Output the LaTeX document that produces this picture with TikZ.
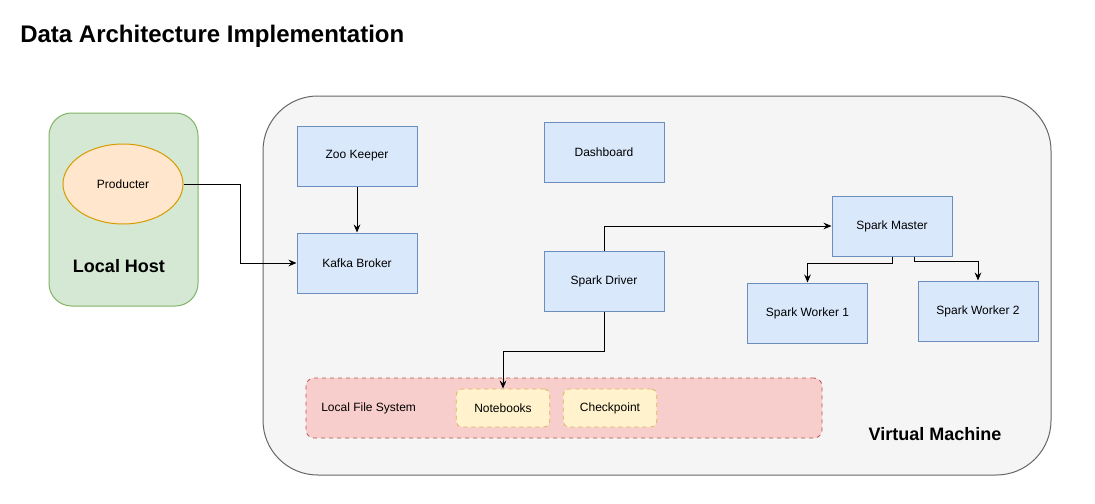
\documentclass[tikz,border=0pt]{standalone}
\usepackage{fontspec}
\setmainfont{Liberation Sans}
\usetikzlibrary{arrows.meta,shapes.geometric,calc}
\definecolor{bluefill}{HTML}{DAE8FC}
\definecolor{bluedraw}{HTML}{6C8EBF}
\definecolor{greenfill}{HTML}{D5E8D4}
\definecolor{greendraw}{HTML}{82B366}
\definecolor{orangefill}{HTML}{FFE6CC}
\definecolor{orangedraw}{HTML}{D79B00}
\definecolor{greyfill}{HTML}{F5F5F5}
\definecolor{greydraw}{HTML}{666666}
\definecolor{redfill}{HTML}{F8CECC}
\definecolor{reddraw}{HTML}{B85450}
\definecolor{yellowfill}{HTML}{FFF2CC}
\definecolor{yellowdraw}{HTML}{D6B656}
\tikzset{
  svc/.style={draw=bluedraw, fill=bluefill, line width=0.75pt, minimum width=90pt, minimum height=45pt, inner sep=0pt, font=\fontsize{9pt}{11pt}\selectfont},
  store/.style={draw=yellowdraw, fill=yellowfill, dashed, line width=0.6pt, rounded corners=4pt, minimum width=70pt, minimum height=28.5pt, inner sep=0pt, font=\fontsize{9pt}{11pt}\selectfont},
  arr/.style={-{Stealth[length=6pt,width=5pt,inset=2pt]}, line width=0.75pt, black},
  bigtitle/.style={font=\bfseries\fontsize{13.5pt}{16pt}\selectfont, inner sep=0pt},
  plain/.style={font=\fontsize{9pt}{11pt}\selectfont, inner sep=0pt}
}
\begin{document}
\begin{tikzpicture}[x=0.75pt,y=-0.75pt]
\useasboundingbox[fill=white] (0,0) rectangle (1095,503);
% title
\node[anchor=west, inner sep=0pt, font=\bfseries\fontsize{18pt}{21pt}\selectfont] (title) at (20,36) {Data Architecture Implementation};
% containers
\node[draw=greendraw, fill=greenfill, line width=0.75pt, rounded corners=17pt, minimum width=111.75pt, minimum height=144.75pt, inner sep=0pt] (lh) at (123.5,209.5) {};
\node[draw=greydraw, fill=greyfill, line width=0.75pt, rounded corners=41pt, minimum width=591pt, minimum height=284.25pt, inner sep=0pt] (vm) at (657,285.5) {};
\node[draw=reddraw, fill=redfill, dashed, line width=0.6pt, rounded corners=6pt, minimum width=387pt, minimum height=45pt, inner sep=0pt] (lfs) at (564,408) {};
% labels
\node[bigtitle] (lhlabel) at (119,266) {Local Host};
\node[bigtitle] (vmlabel) at (935,434) {Virtual Machine};
\node[plain, anchor=west] (lfslabel) at (321,408) {Local File System};
% nodes
\node[ellipse, draw=orangedraw, fill=orangefill, line width=0.75pt, minimum width=90pt, minimum height=60pt, inner sep=0pt, font=\fontsize{9pt}{11pt}\selectfont] (prod) at (123,184) {Producter};
\node[svc] (zoo) at (357,156) {Zoo Keeper};
\node[svc] (kafka) at (357,263) {Kafka Broker};
\node[svc] (dash) at (604,152) {Dashboard};
\node[svc] (driver) at (604,281) {Spark Driver};
\node[svc] (master) at (892,226) {Spark Master};
\node[svc] (w1) at (807.5,313) {Spark Worker 1};
\node[svc] (w2) at (978,311) {Spark Worker 2};
\node[store] (nb) at (503,408) {Notebooks};
\node[store] (cp) at (610,408) {Checkpoint};
% connectors
\coordinate (j0) at (240,184);
\draw[arr] (prod.east) -- (j0) |- (kafka.west);
\draw[arr] (zoo.south) -- (kafka.north);
\draw[arr] (driver.north) |- (master.west);
\coordinate (j1) at (892,263);
\draw[arr] (master.south) -- (j1) -| (w1.north);
\coordinate (s2) at ($(master.south)+(22,0)$);
\coordinate (j2) at ($(master.south)+(22,5)$);
\draw[arr] (s2) -- (j2) -| (w2.north);
\coordinate (j3) at ($(driver.south)+(0,40)$);
\draw[arr] (driver.south) -- (j3) -| (nb.north);
\end{tikzpicture}
\end{document}
